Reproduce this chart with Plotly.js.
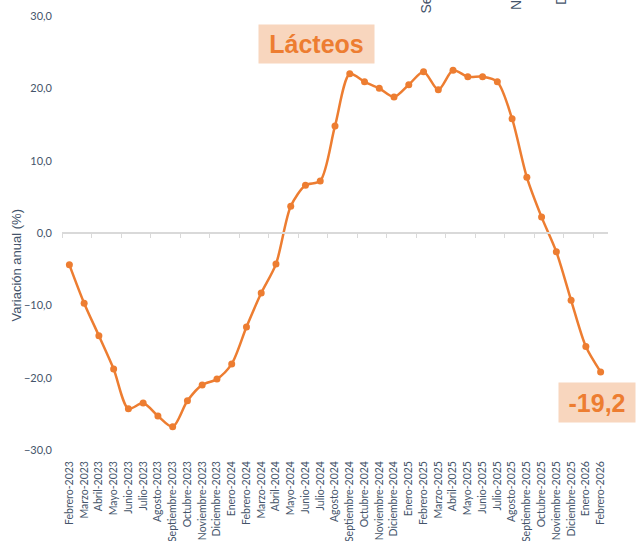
<!DOCTYPE html>
<html>
<head>
<meta charset="utf-8">
<script src="https://cdn.plot.ly/plotly-3.0.1.min.js"></script>
<style>html,body{margin:0;padding:0;background:#fff;}#chart{width:640px;height:541px;}</style>
</head>
<body>
<div id="chart"></div>
<script>
const categories = [
  "Febrero-2023","Marzo-2023","Abril-2023","Mayo-2023","Junio-2023","Julio-2023","Agosto-2023","Septiembre-2023","Octubre-2023","Noviembre-2023","Diciembre-2023",
  "Enero-2024","Febrero-2024","Marzo-2024","Abril-2024","Mayo-2024","Junio-2024","Julio-2024","Agosto-2024","Septiembre-2024","Octubre-2024","Noviembre-2024","Diciembre-2024",
  "Enero-2025","Febrero-2025","Marzo-2025","Abril-2025","Mayo-2025","Junio-2025","Julio-2025","Agosto-2025","Septiembre-2025","Octubre-2025","Noviembre-2025","Diciembre-2025",
  "Enero-2026","Febrero-2026"
];
const variacion = [
  -4.4, -9.7, -14.2, -18.8, -24.3, -23.5, -25.3, -26.8, -23.2, -21.0, -20.2,
  -18.1, -13.0, -8.3, -4.3, 3.7, 6.6, 7.2, 14.8, 22.0, 20.9, 20.0, 18.8,
  20.5, 22.3, 19.8, 22.5, 21.6, 21.6, 20.9, 15.8, 7.7, 2.2, -2.6, -9.3,
  -15.7, -19.2
];
const chartTitle = "Lácteos";
const yTitle = "Variación anual (%)";
const topFragments = ["Se", "N", "D"];

const orange = "#ED7D31";
const peach = "#F8D6BE";
const slate = "#44546A";
const lastVal = variacion[variacion.length - 1];
const lastLabel = lastVal.toFixed(1).replace(".", ",");

const traces = [
  {
    type: "scatter", mode: "lines+markers",
    x: categories, y: variacion,
    line: {color: orange, width: 2.5, shape: "spline", smoothing: 0.8},
    marker: {color: orange, size: 7},
    hoverinfo: "skip", showlegend: false
  },
  {
    type: "scatter", mode: "markers",
    x: categories, y: categories.map(() => 0),
    xaxis: "x2", yaxis: "y",
    marker: {opacity: 0}, hoverinfo: "skip", showlegend: false
  }
];

const px = (x) => (x - 62) / 546;
const py = (y) => 1 - (y - 16) / 434;

const layout = {
  width: 640, height: 541,
  margin: {l: 62, r: 32, t: 16, b: 91},
  paper_bgcolor: "#ffffff", plot_bgcolor: "#ffffff",
  separators: ",.",
  font: {family: "Lato, 'Open Sans', sans-serif", color: slate},
  showlegend: false,
  xaxis: {
    type: "category", range: [-0.5, categories.length - 0.5],
    showgrid: false, zeroline: false, showline: false, ticks: "",
    tickangle: -90, tickfont: {size: 10.5, color: slate},
    ticklabelstandoff: 8, automargin: false, fixedrange: true
  },
  xaxis2: {
    type: "category", overlaying: "x", matches: "x", anchor: "free", position: 0.5,
    side: "bottom", showgrid: false, zeroline: false,
    showline: true, linecolor: "#D9D9D9", linewidth: 2,
    ticks: "outside", tickson: "boundaries", ticklen: 4, tickcolor: "#D9D9D9", tickwidth: 1,
    showticklabels: false, automargin: false
  },
  yaxis: {
    range: [-30, 30], dtick: 10, tick0: 0, tickformat: ".1f",
    showgrid: false, zeroline: false, showline: false, ticks: "",
    tickfont: {size: 11, color: slate}, ticklabelstandoff: 9,
    automargin: false, fixedrange: true
  },
  annotations: [
    {
      xref: "paper", yref: "paper", x: px(15.5), y: py(266),
      xanchor: "center", yanchor: "middle", showarrow: false, textangle: -90,
      text: yTitle, font: {family: "'Liberation Sans', Arial, sans-serif", size: 13, color: slate}
    },
    {
      xref: "paper", yref: "paper", x: px(316), y: py(44),
      xanchor: "center", yanchor: "middle", showarrow: false,
      text: "<b>" + chartTitle + "</b>",
      font: {family: "'Liberation Sans', Arial, sans-serif", size: 25, color: orange},
      bgcolor: peach, width: 111, height: 34, borderpad: 2
    },
    {
      xref: "x", yref: "paper", x: categories[categories.length - 1], y: py(402),
      xanchor: "center", yanchor: "middle", xshift: -4, showarrow: false,
      text: "<b>" + lastLabel + "</b>",
      font: {family: "'Liberation Sans', Arial, sans-serif", size: 25, color: orange},
      bgcolor: peach, width: 72, height: 35, borderpad: 2
    },
    {
      xref: "paper", yref: "paper", x: px(426), y: py(16),
      xanchor: "center", yanchor: "bottom", showarrow: false, textangle: -90,
      text: topFragments[0], font: {family: "'Liberation Sans', Arial, sans-serif", size: 14, color: slate}
    },
    {
      xref: "paper", yref: "paper", x: px(516), y: py(12),
      xanchor: "center", yanchor: "bottom", showarrow: false, textangle: -90,
      text: topFragments[1], font: {family: "'Liberation Sans', Arial, sans-serif", size: 14, color: slate}
    },
    {
      xref: "paper", yref: "paper", x: px(561), y: py(7),
      xanchor: "center", yanchor: "bottom", showarrow: false, textangle: -90,
      text: topFragments[2], font: {family: "'Liberation Sans', Arial, sans-serif", size: 14, color: slate}
    }
  ]
};

Plotly.newPlot("chart", traces, layout, {displayModeBar: false, staticPlot: true});
</script>
</body>
</html>
